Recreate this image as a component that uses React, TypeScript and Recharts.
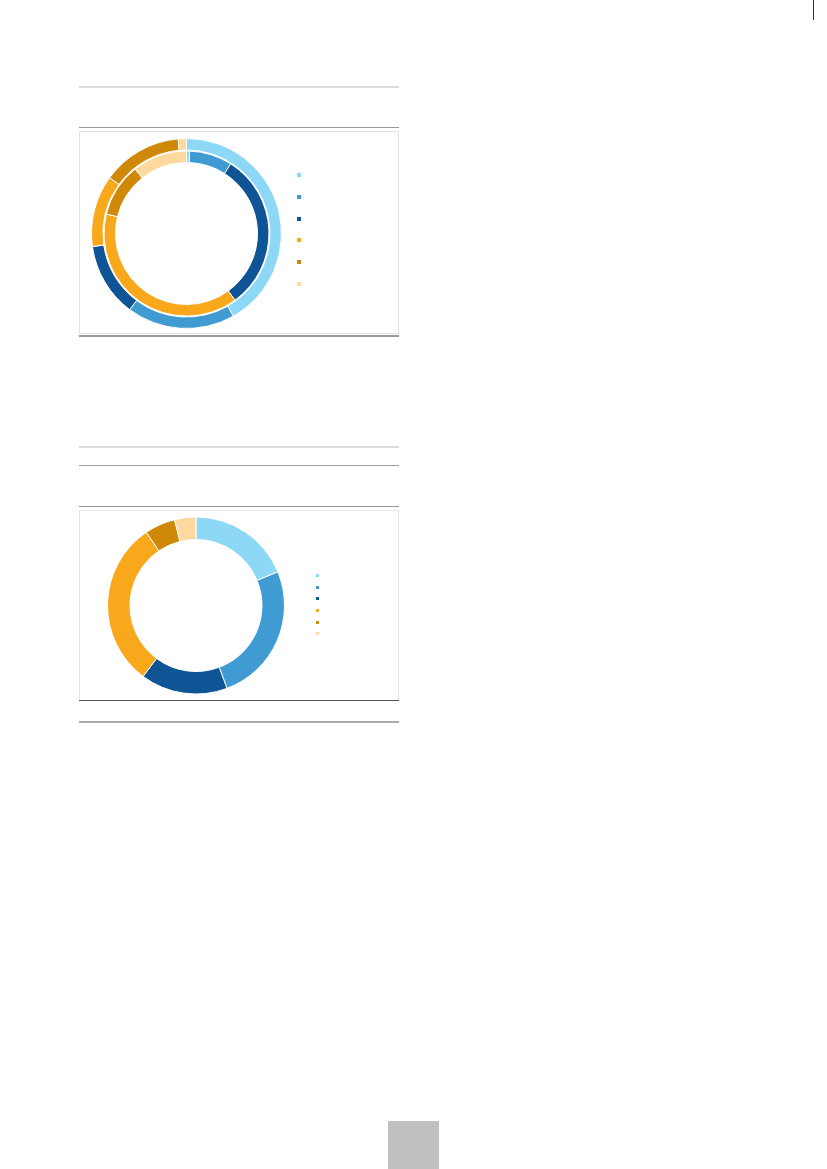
import React from "react";
import { Cell, Legend, Pie, PieChart } from "recharts";

const categories = ["A", "B", "C", "D", "E", "F"];
const colors = ["#8ED8F7", "#419BD3", "#0F5595", "#F8A81A", "#D08808", "#FDD99E"];

// first chart: two rings (%)
const innerRing = [0.6, 8.4, 31.0, 38.8, 10.5, 10.7];
const outerRing = [41.8, 18.4, 12.6, 12.2, 13.6, 1.4];

// second chart: one ring (%)
const singleRing = [18.8, 25.5, 15.9, 30.3, 5.6, 3.9];

const toRows = (values: number[]) => categories.map((name, i) => ({ name, value: values[i] }));
const noMargin = { top: 0, right: 0, bottom: 0, left: 0 };

function Rule({ top, color, height = 1 }: { top: number; color: string; height?: number }) {
  return <div style={{ position: "absolute", left: 79, top, width: 320, height, background: color }} />;
}

function Markers({ size, gap }: { size: number; gap: number }) {
  return (
    <div>
      {colors.map((c) => (
        <div key={c} style={{ width: size, height: size, background: c, marginBottom: gap - size }} />
      ))}
    </div>
  );
}

export default function App() {
  return (
    <div style={{ position: "absolute", left: 0, top: 0, width: 827, height: 1169, background: "#fff", overflow: "hidden" }}>
      <div style={{ position: "absolute", left: 813, top: 0, width: 1, height: 20, background: "#333" }} />

      <Rule top={86} color="#dcdcdc" height={2} />
      <Rule top={127} color="#9a9a9a" />
      <div style={{ position: "absolute", left: 79, top: 131, width: 318, height: 201, border: "1px solid #e2e2e2" }}>
        <PieChart width={318} height={201} margin={noMargin}>
          <Pie
            data={toRows(innerRing)}
            dataKey="value"
            cx={106.5}
            cy={101.5}
            innerRadius={71}
            outerRadius={82.5}
            startAngle={90}
            endAngle={-270}
            stroke="#fff"
            strokeWidth={1}
            isAnimationActive={false}
          >
            {categories.map((c, i) => (
              <Cell key={c} fill={colors[i]} />
            ))}
          </Pie>
          <Pie
            data={toRows(outerRing)}
            dataKey="value"
            cx={106.5}
            cy={101.5}
            innerRadius={83.5}
            outerRadius={95}
            startAngle={90}
            endAngle={-270}
            stroke="#fff"
            strokeWidth={1}
            isAnimationActive={false}
          >
            {categories.map((c, i) => (
              <Cell key={c} fill={colors[i]} />
            ))}
          </Pie>
          <Legend
            content={() => <Markers size={4} gap={21.8} />}
            wrapperStyle={{ position: "absolute", left: 217, top: 41, width: 10 }}
          />
        </PieChart>
      </div>
      <Rule top={335} color="#9a9a9a" height={1.5} />

      <Rule top={446} color="#dcdcdc" height={2} />
      <Rule top={465} color="#9a9a9a" />
      <Rule top={506} color="#9a9a9a" />
      <div style={{ position: "absolute", left: 79, top: 510, width: 318, height: 189, border: "1px solid #e6e6e6", borderBottom: "none" }}>
        <PieChart width={318} height={189} margin={noMargin}>
          <Pie
            data={toRows(singleRing)}
            dataKey="value"
            cx={116}
            cy={94.5}
            innerRadius={66}
            outerRadius={88.5}
            startAngle={90}
            endAngle={-270}
            stroke="#fff"
            strokeWidth={1}
            isAnimationActive={false}
          >
            {categories.map((c, i) => (
              <Cell key={c} fill={colors[i]} />
            ))}
          </Pie>
          <Legend
            content={() => <Markers size={3} gap={11.7} />}
            wrapperStyle={{ position: "absolute", left: 236, top: 63, width: 10 }}
          />
        </PieChart>
      </div>
      <Rule top={699.5} color="#555" />
      <Rule top={721} color="#ababab" height={2} />

      <div style={{ position: "absolute", left: 388, top: 1121, width: 51, height: 48, background: "#c0c0c0" }} />
    </div>
  );
}
